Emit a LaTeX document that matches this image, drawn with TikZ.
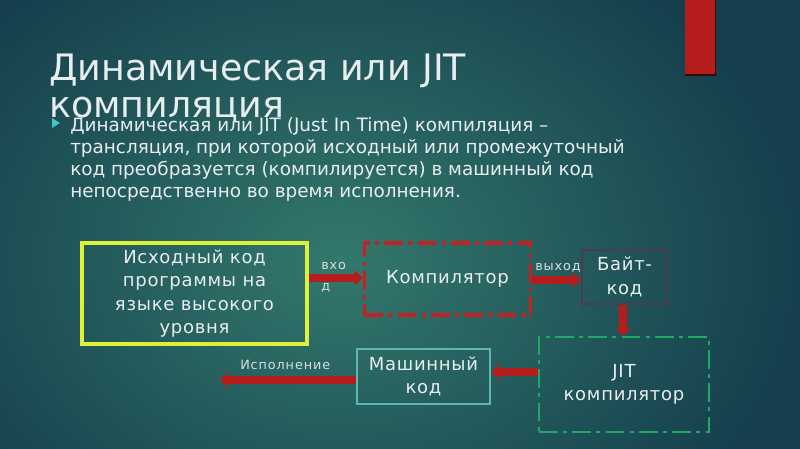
\documentclass[tikz,border=0pt]{standalone}
\usepackage{fontspec}
\setmainfont{DejaVu Sans}
\newfontfamily\titlefont{DejaVu Sans}
\newfontfamily\bodyfont{DejaVu Sans}
\newfontfamily\boxfont[LetterSpace=4]{DejaVu Sans}
\newfontfamily\lblfont[LetterSpace=7]{DejaVu Sans}
\usetikzlibrary{arrows.meta}
\definecolor{bgedge}{HTML}{153F4D}
\definecolor{bgmid}{HTML}{33786C}
\definecolor{txt}{HTML}{E8EEEE}
\definecolor{arrred}{HTML}{B51C1C}
\definecolor{ylw}{HTML}{DDF03A}
\definecolor{rdash}{HTML}{C42222}
\definecolor{byteb}{HTML}{4A3C52}
\definecolor{gdash}{HTML}{1FA868}
\definecolor{mach}{HTML}{5CB8B4}
\definecolor{bullet}{HTML}{3FC4C8}
\tikzset{
  boxtxt/.style={text=txt, font=\boxfont\fontsize{13.5}{17.5}\selectfont, align=center},
  lbl/.style={text=txt!85!gray, font=\lblfont\fontsize{9.6}{12}\selectfont, inner sep=0pt},
  flowarrow/.style={arrred, line width=5.5pt, -{Triangle[length=6pt, width=11pt]}},
  titletxt/.style={anchor=base west, inner sep=0pt, text=txt, font=\titlefont\fontsize{27.3}{34}\selectfont},
}
\begin{document}
\begin{tikzpicture}[x=0.75pt, y=-0.75pt]
\useasboundingbox (0,0) rectangle (800,449);
\shade[inner color=bgmid, outer color=bgedge] (-120,-100) rectangle (800,620);
% red decoration
\fill[black!70!arrred] (685,0) rectangle (716,76);
\fill[arrred] (685,0) rectangle (715,74);
% title
\node[titletxt] (t1) at (49,81) {Динамическая или JIT};
\node[titletxt] (t2) at (49,118) {компиляция};
% bullet
\fill[bullet] (52,118) -- (60,123) -- (52,128) -- cycle;
\node[anchor=north west, inner sep=0pt, text=txt, align=left, font=\bodyfont\fontsize{13.8}{16.6}\selectfont] (body) at (70,117)
 {Динамическая или JIT (Just In Time) компиляция –\\
  трансляция, при которой исходный или промежуточный\\
  код преобразуется (компилируется) в машинный код\\
  непосредственно во время исполнения.};
% boxes
\node[draw=ylw, line width=2.3pt, minimum width=168.75pt, minimum height=75.75pt, inner sep=0pt, boxtxt] (src) at (194.5,293.5) {Исходный код\\программы на\\языке высокого\\уровня};
\node[draw=rdash, line width=2.3pt, dash pattern=on 14pt off 4pt on 3pt off 4pt, minimum width=125pt, minimum height=54pt, inner sep=0pt, boxtxt] (comp) at (447.5,279) {Компилятор};
\node[draw=byteb, line width=1.8pt, minimum width=64pt, minimum height=40.5pt, inner sep=0pt, boxtxt] (byte) at (624.5,277) {Байт-\\код};
\node[draw=gdash, line width=1.8pt, dash pattern=on 14pt off 4pt on 3pt off 4pt, minimum width=127.5pt, minimum height=71pt, inner sep=0pt, boxtxt] (jit) at (624,384.5) {JIT\\компилятор};
\node[draw=mach, line width=1.8pt, minimum width=99.5pt, minimum height=41pt, inner sep=0pt, boxtxt] (mc) at (423.5,376.5) {Машинный\\код};
\coordinate (exec) at (220,380);
% arrows
\draw[flowarrow] (src.east |- 0,278) -- (comp.west |- 0,278);
\draw[flowarrow] (comp.east |- 0,280) -- (byte.west |- 0,280);
\draw[flowarrow] (byte.south -| 623,0) -- (jit.north -| 623,0);
\draw[flowarrow] (jit.west |- 0,372) -- (mc.east |- 0,372);
\draw[flowarrow] (mc.west |- 0,380) -- (exec);
% labels
\node[lbl, anchor=base west] (l1) at (321,269) {вхо};
\node[lbl, anchor=base west] (l2) at (321,290) {д};
\node[lbl, anchor=base west] (l3) at (535,270) {выход};
\node[lbl, anchor=base west] (l4) at (240,369) {Исполнение};
\end{tikzpicture}
\end{document}
